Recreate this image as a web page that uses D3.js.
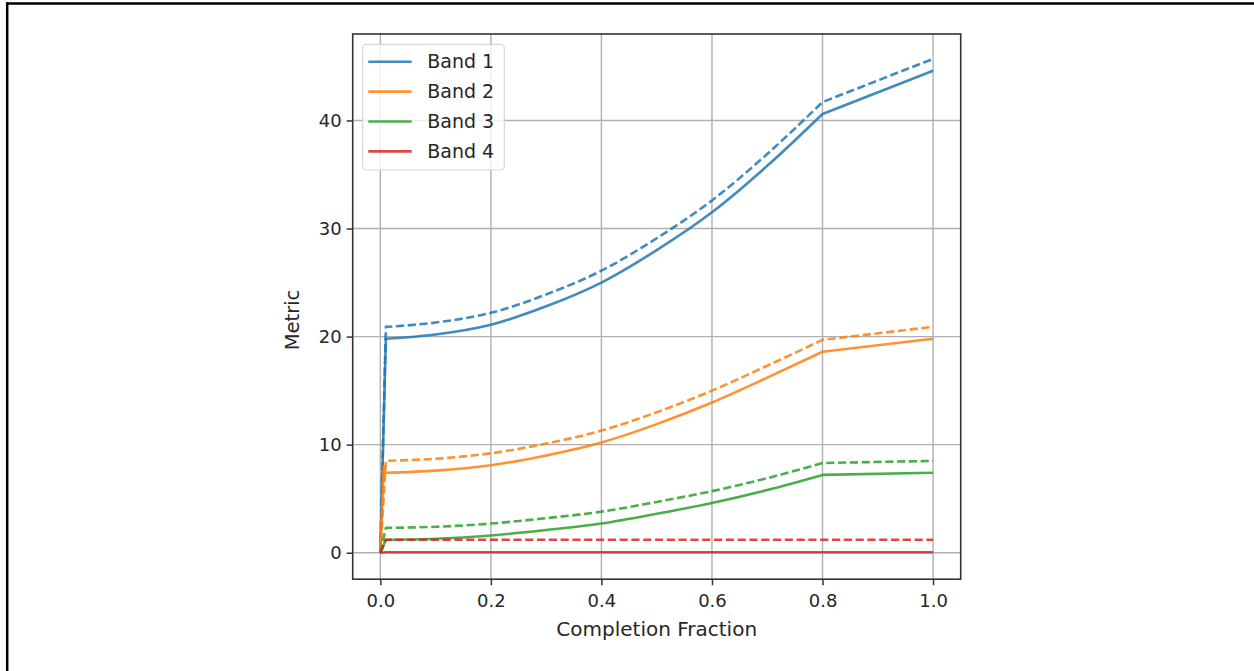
<!DOCTYPE html>
<html>
<head>
<meta charset="utf-8">
<script src="https://cdn.jsdelivr.net/npm/d3@7"></script>
<style>
  html, body { margin: 0; padding: 0; background: #fff; }
  svg { display: block; }
  text { font-family: "DejaVu Sans", sans-serif; fill: #262626; }
</style>
</head>
<body>
<svg id="chart" width="1254" height="671"></svg>
<script>
// ---- data ----
const xValues = [0, 0.01, 0.1, 0.2, 0.3, 0.4, 0.5, 0.6, 0.7, 0.8, 1.0];
const bandNames = ["Band 1", "Band 2", "Band 3", "Band 4"];
const bandColors = ["#1f77b4", "#ff7f0e", "#2ca02c", "#d62728"];
const solidValues = [
  [0, 19.8, 20.2, 21.1, 22.8, 25.0, 28.0, 31.5, 35.8, 40.6, 44.6],
  [0, 7.4, 7.6, 8.1, 9.0, 10.2, 11.9, 13.9, 16.2, 18.6, 19.8],
  [0, 1.2, 1.3, 1.6, 2.1, 2.7, 3.6, 4.6, 5.8, 7.2, 7.4],
  [0, 0.05, 0.05, 0.05, 0.05, 0.05, 0.05, 0.05, 0.05, 0.05, 0.05]
];
const dashedValues = [
  [0, 20.9, 21.3, 22.2, 23.9, 26.1, 29.1, 32.6, 36.9, 41.7, 45.7],
  [0, 8.5, 8.7, 9.2, 10.1, 11.3, 13.0, 15.0, 17.3, 19.7, 20.9],
  [0, 2.3, 2.4, 2.7, 3.2, 3.8, 4.7, 5.7, 6.9, 8.3, 8.5],
  [0, 1.2, 1.2, 1.2, 1.2, 1.2, 1.2, 1.2, 1.2, 1.2, 1.2]
];
// small overshoot of Band 2 (solid) right after the start
const band2SpikeX = 0.006;
const band2SpikeY = 8.0;
const xTicks = [0.0, 0.2, 0.4, 0.6, 0.8, 1.0];
const yTicks = [0, 10, 20, 30, 40];
const xLabel = "Completion Fraction";
const yLabel = "Metric";
// the smooth stretch of every curve runs between these two x values
const smoothFrom = 0.01, smoothTo = 0.8;

// ---- layout ----
const svg = d3.select("#chart");
const L = 352.7, R = 960.7, T = 34, B = 579.2;
const x = d3.scaleLinear().domain([-0.05, 1.05]).range([L, R]);
const y = d3.scaleLinear().domain([-2.45, 48.0]).range([B, T]);

// page frame lines (top and left)
svg.append("line").attr("x1", 6).attr("x2", 1254).attr("y1", 3.5).attr("y2", 3.5)
  .attr("stroke", "#000").attr("stroke-width", 2.5);
svg.append("line").attr("x1", 7.2).attr("x2", 7.2).attr("y1", 2.5).attr("y2", 671)
  .attr("stroke", "#000").attr("stroke-width", 2.5);

// grid
const grid = svg.append("g");
grid.selectAll(".gx").data(xTicks).join("line")
  .attr("x1", d => x(d)).attr("x2", d => x(d)).attr("y1", T).attr("y2", B)
  .attr("stroke", "#b0b0b0").attr("stroke-width", 1.4);
grid.selectAll(".gy").data(yTicks).join("line")
  .attr("y1", d => y(d)).attr("y2", d => y(d)).attr("x1", L).attr("x2", R)
  .attr("stroke", "#b0b0b0").attr("stroke-width", 1.4);

// lines
svg.append("defs").append("clipPath").attr("id", "plotclip")
  .append("rect").attr("x", L).attr("y", T).attr("width", R - L).attr("height", B - T);
const plot = svg.append("g").attr("clip-path", "url(#plotclip)");
const linGen = d3.line().x(d => x(d[0])).y(d => y(d[1]));
const smoothGen = d3.line().x(d => x(d[0])).y(d => y(d[1])).curve(d3.curveMonotoneX);

// linear up to smoothFrom, smooth to smoothTo, linear afterwards — one continuous path
function pathFor(pts) {
  const a = pts.filter(p => p[0] <= smoothFrom);
  const b = pts.filter(p => p[0] >= smoothFrom && p[0] <= smoothTo);
  const c = pts.filter(p => p[0] >= smoothTo);
  let d = linGen(a);
  d += smoothGen(b).replace(/^M/, "L");
  d += linGen(c).replace(/^M/, "L");
  return d;
}

bandNames.forEach((name, i) => {
  let solidPts = xValues.map((xv, j) => [xv, solidValues[i][j]]);
  if (i === 1) solidPts.splice(1, 0, [band2SpikeX, band2SpikeY]);
  const dashedPts = xValues.map((xv, j) => [xv, dashedValues[i][j]]);
  plot.append("path").attr("d", pathFor(dashedPts))
    .attr("fill", "none").attr("stroke", bandColors[i]).attr("stroke-opacity", 0.85)
    .attr("stroke-width", 2.6).attr("stroke-dasharray", "8.2,3.6")
    .attr("stroke-linejoin", "round");
  plot.append("path").attr("d", pathFor(solidPts))
    .attr("fill", "none").attr("stroke", bandColors[i]).attr("stroke-opacity", 0.85)
    .attr("stroke-width", 2.6).attr("stroke-linejoin", "round");
});

// axes
const xAxis = d3.axisBottom(x).tickValues(xTicks).tickFormat(d3.format(".1f"))
  .tickSizeOuter(0).tickSize(6).tickPadding(5);
const yAxis = d3.axisLeft(y).tickValues(yTicks).tickFormat(d3.format("d"))
  .tickSizeOuter(0).tickSize(6).tickPadding(5);
const gx = svg.append("g").attr("transform", `translate(0,${B})`).call(xAxis);
const gy = svg.append("g").attr("transform", `translate(${L},0)`).call(yAxis);
[gx, gy].forEach(g => {
  g.select(".domain").remove();
  g.selectAll(".tick line").attr("stroke", "#333").attr("stroke-width", 1.5);
  g.selectAll(".tick text").attr("font-size", 18).attr("fill", "#262626")
    .attr("font-family", "DejaVu Sans, sans-serif");
});
gx.selectAll(".tick text").attr("dy", "0.95em");

// spines
svg.append("rect").attr("x", L).attr("y", T).attr("width", R - L).attr("height", B - T)
  .attr("fill", "none").attr("stroke", "#333").attr("stroke-width", 1.6);

// axis labels
svg.append("text").attr("x", (L + R) / 2).attr("y", 636).attr("text-anchor", "middle")
  .attr("font-size", 20).text(xLabel);
svg.append("text").attr("transform", `translate(299,320) rotate(-90)`)
  .attr("text-anchor", "middle").attr("font-size", 19.5).text(yLabel);

// legend
const lg = svg.append("g");
lg.append("rect").attr("x", 362.7).attr("y", 44.3).attr("width", 141.6).attr("height", 125.7)
  .attr("rx", 4).attr("fill", "#fff").attr("fill-opacity", 0.8)
  .attr("stroke", "#d6d6d6").attr("stroke-width", 1.2);
bandNames.forEach((name, i) => {
  const cy = 61.7 + i * 29.9;
  lg.append("line").attr("x1", 368.3).attr("x2", 411.7).attr("y1", cy).attr("y2", cy)
    .attr("stroke", bandColors[i]).attr("stroke-opacity", 0.85).attr("stroke-width", 2.6);
  lg.append("text").attr("x", 427.3).attr("y", cy).attr("dy", "0.35em")
    .attr("font-size", 19).text(name);
});
</script>
</body>
</html>
